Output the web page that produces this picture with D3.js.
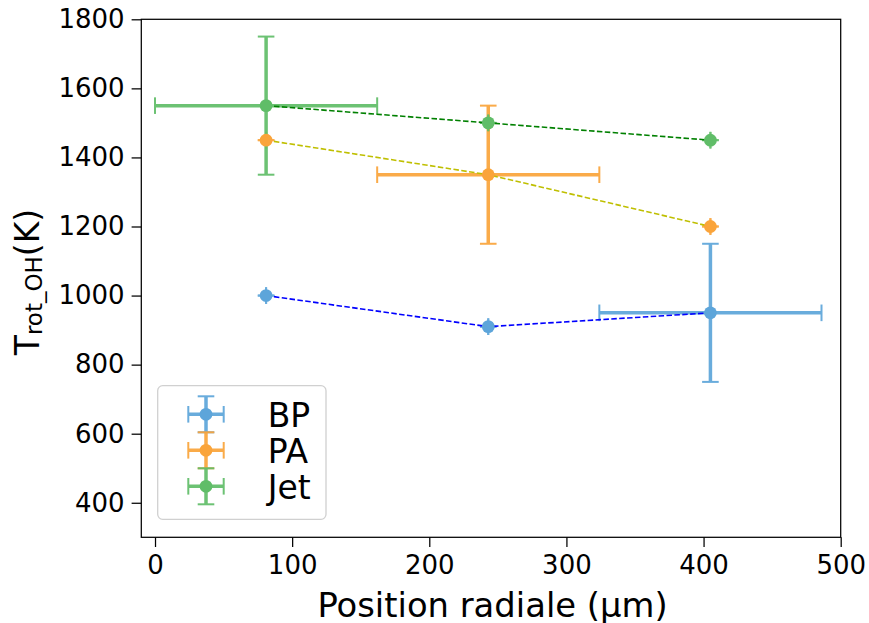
<!DOCTYPE html>
<html><head><meta charset="utf-8">
<script src="https://cdn.jsdelivr.net/npm/d3@7"></script>
<style>body{margin:0;background:#fff}text{font-family:"DejaVu Sans",sans-serif}</style>
</head><body>
<svg id="c" width="869" height="623"></svg>
<script>
const xPositions = [81, 243, 405];
const seriesNames = ["BP", "PA", "Jet"];
const bpValues = [1000, 910, 950];
const bpXErr = [0, 0, 81];
const bpYErr = [0, 0, 200];
const paValues = [1450, 1350, 1200];
const paXErr = [0, 81, 0];
const paYErr = [0, 200, 0];
const jetValues = [1550, 1500, 1450];
const jetXErr = [81, 0, 0];
const jetYErr = [200, 0, 0];
const xTicks = [0, 100, 200, 300, 400, 500];
const yTicks = [400, 600, 800, 1000, 1200, 1400, 1600, 1800];

const markerColors = ["#5DA5DA", "#FAA43A", "#60BD68"];
const lineColors = ["#0000ff", "#bfbf00", "#008000"];

const series = [
  {name: seriesNames[0], y: bpValues, xe: bpXErr, ye: bpYErr},
  {name: seriesNames[1], y: paValues, xe: paXErr, ye: paYErr},
  {name: seriesNames[2], y: jetValues, xe: jetXErr, ye: jetYErr}
];

const L = 141.3, R = 840.7, T = 19.3, B = 537.3;
const x = d3.scaleLinear().domain([-10, 500]).range([L, R]);
const y = d3.scaleLinear().domain([300, 1800]).range([B, T]);
const svg = d3.select("#c");

// axes
const xa = svg.append("g").attr("transform", `translate(0,${B})`)
  .call(d3.axisBottom(x).tickValues(xTicks).tickSize(9.7).tickPadding(9).tickFormat(d3.format("d")));
const ya = svg.append("g").attr("transform", `translate(${L},0)`)
  .call(d3.axisLeft(y).tickValues(yTicks).tickSize(9.7).tickPadding(7).tickFormat(d3.format("d")));
[xa, ya].forEach(a => {
  a.select(".domain").remove();
  a.selectAll(".tick line").attr("stroke", "#000").attr("stroke-width", 1.25);
  a.selectAll(".tick text").attr("font-size", 26).attr("font-family", "DejaVu Sans").attr("fill", "#000");
});
svg.append("rect").attr("x", L).attr("y", T).attr("width", R - L).attr("height", B - T)
  .attr("fill", "none").attr("stroke", "#000").attr("stroke-width", 1.25);

const cap = 8.3;
const g = svg.append("g");
// error bars
series.forEach((s, si) => {
  const c = markerColors[si];
  xPositions.forEach((xv, i) => {
    const cx = x(xv), cy = y(s.y[i]);
    const x0 = x(xv - s.xe[i]), x1 = x(xv + s.xe[i]);
    const y0 = y(s.y[i] - s.ye[i]), y1 = y(s.y[i] + s.ye[i]);
    const eg = g.append("g").attr("stroke", c).attr("opacity", 0.92);
    eg.append("line").attr("x1", x0).attr("x2", x1).attr("y1", cy).attr("y2", cy).attr("stroke-width", 3.5);
    eg.append("line").attr("x1", cx).attr("x2", cx).attr("y1", y0).attr("y2", y1).attr("stroke-width", 3.5);
    [x0, x1].forEach(xx => eg.append("line").attr("x1", xx).attr("x2", xx).attr("y1", cy - cap).attr("y2", cy + cap).attr("stroke-width", 2));
    [y0, y1].forEach(yy => eg.append("line").attr("y1", yy).attr("y2", yy).attr("x1", cx - cap).attr("x2", cx + cap).attr("stroke-width", 2));
  });
});
// dashed lines
series.forEach((s, si) => {
  const line = d3.line().x((d, i) => x(xPositions[i])).y(d => y(d));
  g.append("path").attr("d", line(s.y)).attr("fill", "none")
    .attr("stroke", lineColors[si]).attr("stroke-width", 1.6).attr("stroke-dasharray", "5.5,2.4");
});
// markers
series.forEach((s, si) => {
  g.selectAll(null).data(s.y).enter().append("circle")
    .attr("cx", (d, i) => x(xPositions[i])).attr("cy", d => y(d)).attr("r", 6.4)
    .attr("fill", markerColors[si]);
});

// legend
const lg = svg.append("g");
lg.append("rect").attr("x", 157.7).attr("y", 385.7).attr("width", 168.3).attr("height", 133.6)
  .attr("rx", 5).attr("fill", "#fff").attr("fill-opacity", 0.8).attr("stroke", "#d0d0d0").attr("stroke-width", 1.3);
const legY = [414.3, 450.3, 486.3];
series.forEach((s, si) => {
  const c = markerColors[si];
  const cx = 206, cy = legY[si], hw = 17.7, hh = 18;
  const eg = lg.append("g").attr("stroke", c).attr("opacity", 0.92);
  eg.append("line").attr("x1", cx - hw).attr("x2", cx + hw).attr("y1", cy).attr("y2", cy).attr("stroke-width", 3.5);
  eg.append("line").attr("x1", cx).attr("x2", cx).attr("y1", cy - hh).attr("y2", cy + hh).attr("stroke-width", 3.5);
  [cx - hw, cx + hw].forEach(xx => eg.append("line").attr("x1", xx).attr("x2", xx).attr("y1", cy - cap).attr("y2", cy + cap).attr("stroke-width", 2));
  [cy - hh, cy + hh].forEach(yy => eg.append("line").attr("y1", yy).attr("y2", yy).attr("x1", cx - cap).attr("x2", cx + cap).attr("stroke-width", 2));
  lg.append("circle").attr("cx", cx).attr("cy", cy).attr("r", 6.4).attr("fill", c);
  lg.append("text").attr("x", 267.7).attr("y", cy + 12.3).attr("font-size", 33).attr("fill", "#000").text(s.name);
});

// axis labels
svg.append("text").attr("x", 492.5).attr("y", 616.5).attr("text-anchor", "middle")
  .attr("font-size", 33.8).attr("fill", "#000").text("Position radiale (µm)");
const yl = svg.append("text").attr("transform", `translate(38.5,282) rotate(-90)`)
  .attr("text-anchor", "middle").attr("font-size", 33).attr("fill", "#000");
yl.append("tspan").text("T");
yl.append("tspan").attr("font-size", 23).attr("dy", 3).text("rot_OH");
yl.append("tspan").attr("dy", -3).text("(K)");
</script>
</body></html>
